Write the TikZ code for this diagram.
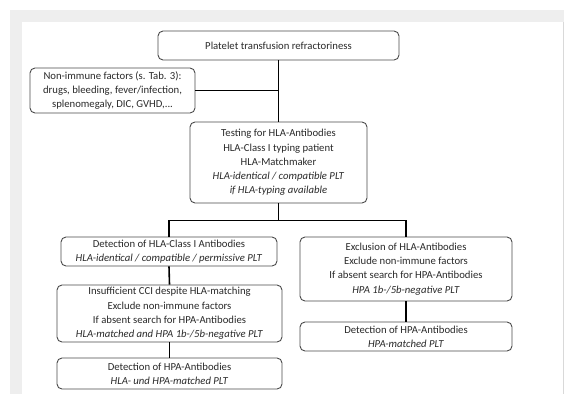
\documentclass[tikz,border=0pt]{standalone}
\usepackage{fontspec}
\setmainfont{Carlito}
\usepackage{tikz}
\usetikzlibrary{calc}
\definecolor{panelgray}{HTML}{EEEEEE}
\definecolor{boxline}{HTML}{4A4A4A}
\definecolor{boxtext}{HTML}{2A2A2A}

\begin{document}
\begin{tikzpicture}[x=1pt,y=-1pt,
    box/.style={draw=boxline,line width=0.9pt,rounded corners=5pt,fill=white,align=center,
        text=boxtext,font=\fontsize{10.7}{14.3}\selectfont,inner sep=0pt},
    link/.style={draw=black,line width=1.6pt}]
    \useasboundingbox (0,0) rectangle (564,394);
    \fill[panelgray] (10,10) rectangle (564,394);
    \fill[white] (22,22) rectangle (563,394);
    \draw[black!15] (563.5,22) -- (563.5,394);
    % boxes
    \node[box,minimum width=241,minimum height=29] (refr) at (278.5,45.5) {Platelet transfusion refractoriness};
    \node[box,minimum width=165,minimum height=45] (nonimm) at (112.5,90.5) {Non-immune factors (s. Tab. 3):\\drugs, bleeding, fever/infection,\\splenomegaly, DIC, GVHD,...};
    \node[box,minimum width=177,minimum height=81] (test) at (278.5,162.5) {Testing for HLA-Antibodies\\HLA-Class I typing patient\\HLA-Matchmaker\\\textit{HLA-identical / compatible PLT}\\\textit{if HLA-typing available}};
    \node[box,minimum width=216,minimum height=29] (hlaab) at (169,251.5) {Detection of HLA-Class I Antibodies\\\textit{HLA-identical / compatible / permissive PLT}};
    \node[box,minimum width=225,minimum height=57] (insuff) at (169.5,313.5) {Insufficient CCI despite HLA-matching\\Exclude non-immune factors\\If absent search for HPA-Antibodies\\\textit{HLA-matched and HPA 1b-/5b-negative PLT}};
    \node[box,minimum width=225,minimum height=31] (hpaleft) at (169.5,373.5) {Detection of HPA-Antibodies\\\textit{HLA- und HPA-matched PLT}};
    \node[box,minimum width=212,minimum height=64] (excl) at (406,269) {Exclusion of HLA-Antibodies\\Exclude non-immune factors\\If absent search for HPA-Antibodies\\\textit{HPA 1b-/5b-negative PLT}};
    \node[box,minimum width=212,minimum height=29] (hparight) at (406,336.5) {Detection of HPA-Antibodies\\\textit{HPA-matched PLT}};
    % connectors
    \coordinate (join) at (refr.south |- nonimm.east);
    \coordinate (split) at ($(test.south)+(0,17)$);
    \draw[link] (refr.south) -- (test.north);
    \draw[link] (nonimm.east) -- (join);
    \draw[link] (test.south) -- (split);
    \draw[link] (hlaab.north) |- (split) -| (excl.north);
    \draw[link] (hlaab.south) -- (insuff.north);
    \draw[link] (insuff.south) -- (hpaleft.north);
    \draw[link] (excl.south) -- (hparight.north);
\end{tikzpicture}
\end{document}
